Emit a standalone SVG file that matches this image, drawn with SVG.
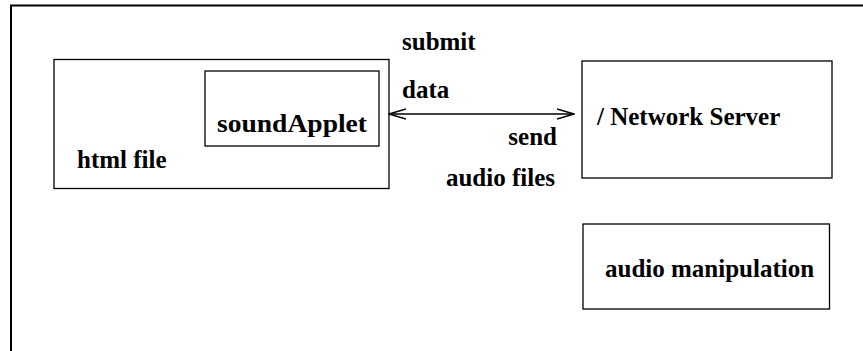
<svg xmlns="http://www.w3.org/2000/svg" width="863" height="351" viewBox="0 0 863 351">
  <style>
    .box { fill: none; stroke: #000; stroke-width: 1.3; }
    .frame { fill: none; stroke: #000; stroke-width: 2; }
    .lbl { font-family: 'Liberation Serif', 'Times New Roman', serif; font-weight: bold; font-size: 25px; fill: #000; }
    .conn { stroke: #000; stroke-width: 1.6; fill: none; }
  </style>
  <defs>
    <marker id="openHead" viewBox="0 0 18 12" refX="17" refY="6" markerWidth="18" markerHeight="12" markerUnits="userSpaceOnUse" orient="auto-start-reverse">
      <path d="M0,1 L17,6 L0,11" fill="none" stroke="#000" stroke-width="1.4"/>
    </marker>
  </defs>
  <rect width="863" height="351" fill="#fff"/>

  <!-- outer border -->
  <path class="frame" d="M11,352 L11,5.5 L864,5.5"/>

  <g id="html-file">
    <rect class="box" x="54" y="59.5" width="335" height="129"/>
    <text class="lbl" x="77" y="168">html file</text>
  </g>

  <g id="sound-applet">
    <rect class="box" x="205" y="71" width="174" height="75"/>
    <text class="lbl" x="217" y="132" textLength="150" lengthAdjust="spacingAndGlyphs">soundApplet</text>
  </g>

  <g id="network-server">
    <rect class="box" x="582" y="61" width="250" height="117"/>
    <text class="lbl" x="597" y="125">/ Network Server</text>
  </g>

  <g id="audio-manipulation">
    <rect class="box" x="583" y="224" width="246.5" height="85"/>
    <text class="lbl" x="605" y="277">audio manipulation</text>
  </g>

  <g id="connectors">
    <line class="conn" x1="389" y1="114" x2="574" y2="114" marker-start="url(#openHead)" marker-end="url(#openHead)"/>
    <text class="lbl" x="402" y="50">submit</text>
    <text class="lbl" x="402" y="98">data</text>
    <text class="lbl" x="557" y="145" text-anchor="end">send</text>
    <text class="lbl" x="555" y="186" text-anchor="end">audio files</text>
  </g>
</svg>
